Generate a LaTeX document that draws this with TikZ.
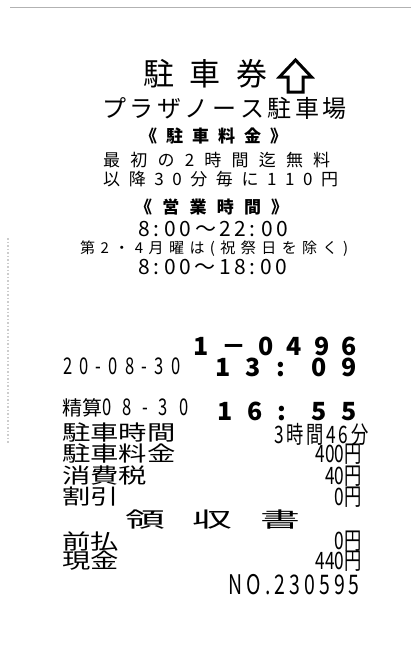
\documentclass[tikz,border=0pt]{standalone}
\usepackage{fontspec}
\setmainfont{Noto Sans CJK JP}
\newfontfamily\rcnarrow[FakeStretch=0.72]{Noto Sans CJK JP}
\newfontfamily\rcwide[FakeStretch=1.35]{Noto Sans CJK JP}
\newfontfamily\rcbroad[FakeStretch=1.9]{Noto Sans CJK JP}
\newcommand{\spread}[2]{\makebox[#1][s]{#2}}
\tikzstyle{txt} = [inner sep=0pt, anchor=west]
\tikzstyle{amt} = [inner sep=0pt, anchor=east, font=\rcnarrow\fontsize{24}{24}\selectfont]
\tikzstyle{row} = [txt, font=\rcwide\fontsize{21}{21}\selectfont]
\tikzstyle{big} = [txt, font=\bfseries\fontsize{25}{25}\selectfont]

\begin{document}
\begin{tikzpicture}[x=1pt, y=-1pt]
  \useasboundingbox (0,0) rectangle (411,662);
  \draw [gray!60, line width=1pt] (10,7) -- (411,7);
  \draw [gray!40, line width=1.5pt, dotted] (8,238) -- (8,443);

  % header
  \node (title) [txt] at (143,74) {\fontsize{31}{31}\selectfont\spread{124pt}{駐 車 券}};
  \draw [line width=3pt] (288,92) -- (288,77) -- (279.5,77) -- (295.5,60) -- (311.5,77) -- (303,77) -- (303,92) -- cycle;
  \node (place) [txt] at (102,108) {\fontsize{24}{24}\selectfont\spread{225pt}{プ ラ ザ ノ ー ス 駐 車 場}};
  \node (feehead) [txt] at (140,135.5) {\bfseries\fontsize{17}{17}\selectfont\spread{147pt}{《 駐 車 料 金 》}};
  \node (fee1) [txt] at (103,160.5) {\fontsize{17}{17}\selectfont\spread{227pt}{最 初 の 2 時 間 迄 無 料}};
  \node (fee2) [txt] at (103,179.5) {\fontsize{17}{17}\selectfont\spread{235pt}{以 降 3 0 分 毎 に 1 1 0 円}};
  \node (hourhead) [txt] at (135,207.5) {\bfseries\fontsize{17}{17}\selectfont\spread{153pt}{《 営 業 時 間 》}};
  \node (hours1) [txt] at (138,229) {\fontsize{21}{21}\selectfont\spread{150pt}{8 : 0 0 ～ 2 2 : 0 0}};
  \node (closed) [txt] at (80,248.5) {\fontsize{15}{15}\selectfont\spread{268pt}{第 2 ・ 4 月 曜 は ( 祝 祭 日 を 除 く )}};
  \node (hours2) [txt] at (138,267) {\fontsize{21}{21}\selectfont\spread{149pt}{8 : 0 0 ～ 1 8 : 0 0}};

  % ticket
  \node (ticket) [big] at (193,346.5) {\spread{164pt}{1 － 0 4 9 6}};
  \node (indate) [txt] at (63,366.5) {\rcnarrow\fontsize{23}{23}\selectfont\spread{117pt}{2 0 - 0 8 - 3 0}};
  \node (intime) [big] at (215,367.5) {\spread{142pt}{1 3 : 0 9}};
  \node (paydate) [txt] at (62,407.5) {\fontsize{20}{20}\selectfont 精算{\rcnarrow\fontsize{23}{23}\selectfont\spread{86pt}{0 8 - 3 0}}};
  \node (paytime) [big] at (217,411) {\spread{140pt}{1 6 : 5 5}};

  % amounts
  \node (durlbl) [row] at (62,433) {駐車時間};
  \node (durval) [amt] at (362,434) {\spread{87pt}{3 時 間 4 6 分}};
  \node (feelbl) [row] at (62,454) {駐車料金};
  \node (feeval) [amt] at (362,454) {400円};
  \node (taxlbl) [row] at (62,476) {消費税};
  \node (taxval) [amt] at (362,476) {40円};
  \node (disclbl) [row] at (62,497) {割引};
  \node (discval) [amt] at (362,497) {0円};
  \node (receipt) [inner sep=0pt] at (212.5,520) {\rcbroad\fontsize{21}{21}\selectfont\spread{175pt}{領 収 書}};
  \node (prelbl) [row] at (62,541) {前払};
  \node (preval) [amt] at (362,541) {0円};
  \node (cashlbl) [row] at (62,561) {現金};
  \node (cashval) [amt] at (362,561) {440円};
  \node (serial) [amt, font=\rcnarrow\fontsize{27}{27}\selectfont] at (360,585) {\spread{131pt}{N O . 2 3 0 5 9 5}};

\end{tikzpicture}
\end{document}
